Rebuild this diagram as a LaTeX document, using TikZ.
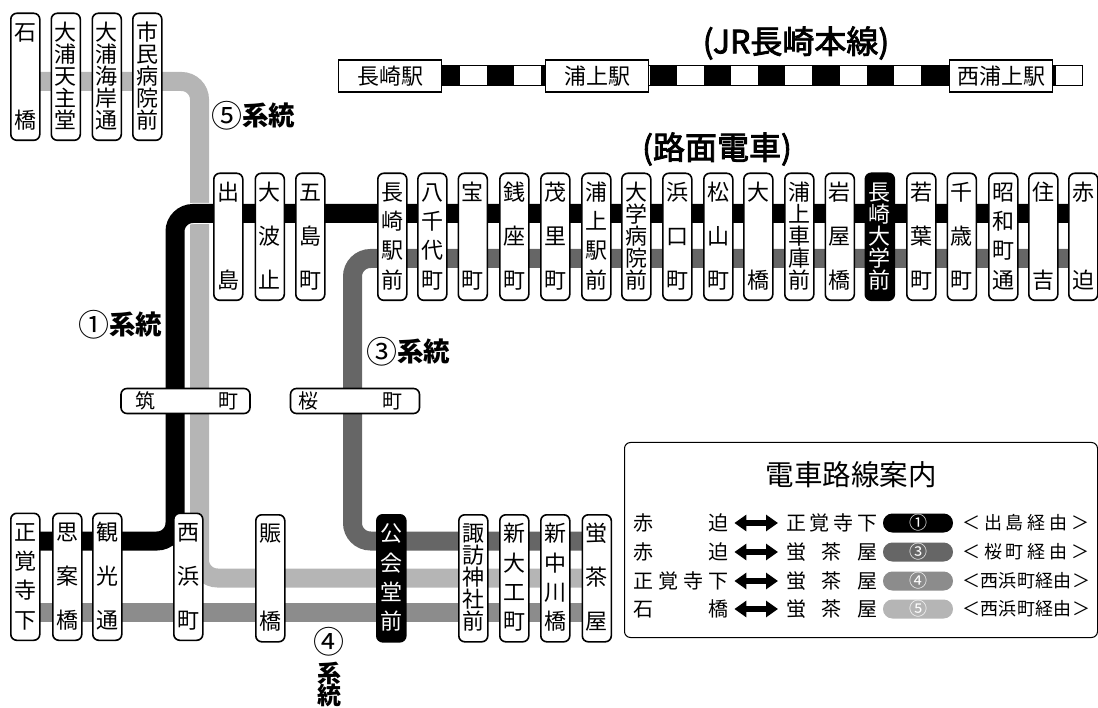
\documentclass[tikz,border=0pt]{standalone}
\usepackage{fontspec}
\usetikzlibrary{backgrounds,arrows.meta,calc}
\setmainfont{Noto Sans CJK JP}
\newfontfamily\hvy[FakeBold=2.6]{Noto Sans CJK JP}
\definecolor{cOne}{HTML}{000000}
\definecolor{cThree}{HTML}{666666}
\definecolor{cFour}{HTML}{8C8C8C}
\definecolor{cFive}{HTML}{B5B5B5}
\def\Vi#1#2\relax{\hbox to 24pt{\hss\rule[-3pt]{0pt}{21pt}\smash{#1}\hss}\ifx\relax#2\relax\else\vfill\Vi#2\relax\fi}
\newcommand\Vs[1]{\vbox to 106pt{\offinterlineskip\Vi#1\relax}}
\newcommand\Sp[2]{\makebox[#1pt][s]{#2}}
\newcommand\Ci[1]{\raisebox{-2pt}{\fontsize{31}{31}\selectfont #1}}
\tikzset{
 stbox/.style={draw=black,line width=1.6pt,fill=white,rounded corners=6pt,inner sep=0pt,
   minimum width=29pt,minimum height=127pt,anchor=north west,font=\fontsize{22}{22}\selectfont},
 stdark/.style={stbox,fill=black,text=white},
 jrbox/.style={draw=black,line width=1.2pt,fill=white,inner sep=0pt,minimum width=103pt,minimum height=32pt,
   anchor=north west,font=\fontsize{22}{22}\selectfont},
 stop/.style={draw=black,line width=1.6pt,fill=white,rounded corners=6pt,inner sep=0pt,minimum width=129pt,
   minimum height=25pt,font=\fontsize{20}{20}\selectfont},
 rail/.style={line width=19pt,rounded corners=18pt,line cap=butt},
 sq/.style={draw=none,fill=white,inner sep=0pt,minimum width=27pt,minimum height=19pt,anchor=north west},
 lab/.style={inner sep=0pt},
 routelab/.style={lab,anchor=west,font=\fontsize{26.5}{26.5}\selectfont\bfseries},
 legtxt/.style={inner sep=0pt,font=\fontsize{20}{20}\selectfont},
 viatxt/.style={inner sep=0pt,anchor=west,font=\fontsize{18}{18}\selectfont},
 pill/.style={inner sep=0pt,minimum width=70pt,minimum height=19pt,rounded corners=9.4pt,text=white,
   font=\fontsize{18}{18}\selectfont},
 legarrow/.style={line width=6pt,{Triangle[length=12pt,width=16pt]}-{Triangle[length=12pt,width=16pt]}},
}
\begin{document}
\begin{tikzpicture}[x=1pt,y=-1pt]
\useasboundingbox (0,0) rectangle (1098,708);
% top-left stations
\node[stbox] (ishi) at (10,12.5) {\Vs{石橋}};
\node[stbox] (tens) at (50.5,12.5) {\Vs{大浦天主堂}};
\node[stbox] (kais) at (91.5,12.5) {\Vs{大浦海岸通}};
\node[stbox] (shim) at (132,12.5) {\Vs{市民病院前}};
% main row
\node[stbox] (deji) at (213,172.5) {\Vs{出島}};
\node[stbox] (ohat) at (254.5,172.5) {\Vs{大波止}};
\node[stbox] (goto) at (295,172.5) {\Vs{五島町}};
\node[stbox] (naga) at (377,172.5) {\Vs{長崎駅前}};
\node[stbox] (yach) at (417,172.5) {\Vs{八千代町}};
\node[stbox] (taka) at (457.5,172.5) {\Vs{宝町}};
\node[stbox] (zeni) at (499,172.5) {\Vs{銭座町}};
\node[stbox] (mogi) at (540,172.5) {\Vs{茂里町}};
\node[stbox] (urak) at (581,172.5) {\Vs{浦上駅前}};
\node[stbox] (daib) at (621,172.5) {\Vs{大学病院前}};
\node[stbox] (hama) at (662,172.5) {\Vs{浜口町}};
\node[stbox] (mats) at (703,172.5) {\Vs{松山町}};
\node[stbox] (ohas) at (743,172.5) {\Vs{大橋}};
\node[stbox] (ursk) at (784,172.5) {\Vs{浦上車庫前}};
\node[stbox] (iway) at (824.5,172.5) {\Vs{岩屋橋}};
\node[stdark] (ndai) at (864.5,172.5) {\Vs{長崎大学前}};
\node[stbox] (waka) at (906,172.5) {\Vs{若葉町}};
\node[stbox] (chit) at (946.5,172.5) {\Vs{千歳町}};
\node[stbox] (show) at (988,172.5) {\Vs{昭和町通}};
\node[stbox] (sumi) at (1028,172.5) {\Vs{住吉}};
\node[stbox] (akas) at (1068,172.5) {\Vs{赤迫}};
% mid stops
\node[stop] (tsuk) at (185.5,401) {\hbox to 129pt{\hskip 14pt 筑\hfill 町\hskip 12pt}};
\node[stop] (saku) at (355,401) {\hbox to 129pt{\hskip 8pt 桜\hfill 町\hskip 17pt}};
% bottom row
\node[stbox] (shok) at (10,512.5) {\Vs{正覚寺下}};
\node[stbox] (shia) at (52,512.5) {\Vs{思案橋}};
\node[stbox] (kank) at (92,512.5) {\Vs{観光通}};
\node[stbox] (nish) at (173,512.5) {\Vs{西浜町}};
\node[stbox] (nigi) at (255,514) {\Vs{賑橋}};
\node[stdark] (koka) at (376,514) {\Vs{公会堂前}};
\node[stbox] (suwa) at (458,514) {\Vs{諏訪神社前}};
\node[stbox] (shin) at (499,514) {\Vs{新大工町}};
\node[stbox] (snak) at (540,514) {\Vs{新中川橋}};
\node[stbox] (hota) at (581.5,514) {\Vs{蛍茶屋}};
% route corners
\coordinate (f1) at (199.5,81.5);
\coordinate (f2) at (199.5,578);
\coordinate (o1) at (175,541);
\coordinate (o2) at (175,213.5);
\coordinate (t1) at (352.5,258.5);
\coordinate (t2) at (352.5,541);
\coordinate (fr) at (300,612);
\begin{scope}[on background layer]
 \draw[rail,cFive] (ishi.center |- f1) -- (f1) -- (f2) -- (hota.center |- f2);
 \draw[rail,cFour] (shok.center |- fr) -- (hota.center |- fr);
 \draw[rail,cThree] (akas.center |- t1) -- (t1) -- (t2) -- (hota.center |- t2);
 \draw[rail,white,line width=21pt] (akas.center |- o2) -- (o2) -- (o1);
 \draw[rail,cOne] (shok.center |- o1) -- (o1) -- (o2) -- (akas.center |- o2);
\end{scope}
% JR line
\fill[black] (338,65) rectangle (1083,86);
\foreach \q in {460,514,569,623,677,731,785,840,894}
  \node[sq] at (\q,66) {};
\node[sq,minimum width=26pt] at (1056,66) {};
\node[jrbox] (jr1) at (338,59.5) {長崎駅};
\node[jrbox] (jr2) at (545,59.5) {浦上駅};
\node[jrbox] (jr3) at (949,59.5) {西浦上駅};
% headings
\node[lab,font=\fontsize{32}{32}\selectfont\hvy] (hjr) at (796,43) {(JR長崎本線)};
\node[lab,font=\fontsize{32}{32}\selectfont\hvy] (hro) at (717,149) {(路面電車)};
% route labels
\node[routelab] (l5) at (211,116) {\Ci{\mdseries ⑤}系統};
\node[routelab] (l1) at (78,325) {\Ci{\mdseries ①}系統};
\node[routelab] (l3) at (366,352) {\Ci{\mdseries ③}系統};
\node[lab,font=\fontsize{31}{31}\selectfont] (l4a) at (329,642) {④};
\node[lab,font=\fontsize{24}{24}\selectfont\bfseries] (l4b) at (329,673) {系};
\node[lab,font=\fontsize{24}{24}\selectfont\bfseries] (l4c) at (329,695.5) {統};
% legend
\draw[line width=1pt,rounded corners=6pt] (624.5,442.5) rectangle (1097.5,637.5);
\node[lab,font=\fontsize{28.5}{28.5}\selectfont] (lt) at (851,475) {電車路線案内};
\foreach \nm/\y/\ls/\rs/\col/\dg/\via/\vw in {
 a/523/{赤\hfill 迫}/{正\hfill 覚\hfill 寺\hfill 下}/cOne/①/{＜\hfill 出\hfill 島\hfill 経\hfill 由\hfill ＞}/127,
 b/552/{赤\hfill 迫}/{蛍\hfill 茶\hfill 屋}/cThree/③/{＜\hfill 桜\hfill 町\hfill 経\hfill 由\hfill ＞}/127,
 c/581/{正\hfill 覚\hfill 寺\hfill 下}/{蛍\hfill 茶\hfill 屋}/cFour/④/{＜\hfill 西\hfill 浜\hfill 町\hfill 経\hfill 由\hfill ＞}/128,
 d/609/{石\hfill 橋}/{蛍\hfill 茶\hfill 屋}/cFive/⑤/{＜\hfill 西\hfill 浜\hfill 町\hfill 経\hfill 由\hfill ＞}/128}{
 \node[legtxt,anchor=west] (L\nm) at (633,\y) {\Sp{95}{\ls}};
 \node[legtxt,anchor=west] (R\nm) at (786,\y) {\Sp{91}{\rs}};
 \node[pill,fill=\col] (P\nm) at (918,\y) {\dg};
 \node[viatxt] (V\nm) at (962,\y) {\Sp{\vw}{\via}};
 \draw[legarrow] (L\nm.east) ++(6,0) -- ($(R\nm.west)+(-8,0)$);
}
\end{tikzpicture}
\end{document}
